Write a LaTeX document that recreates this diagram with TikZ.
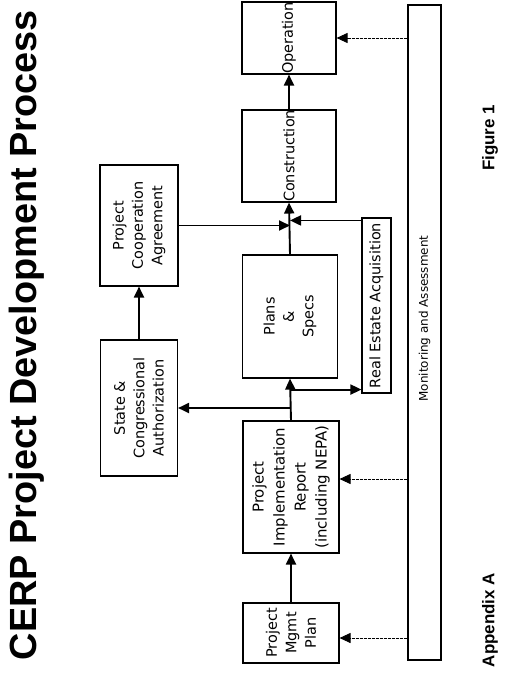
\documentclass[tikz,border=0pt]{standalone}
\usepackage{fontspec}
\usetikzlibrary{arrows.meta,positioning}
\newfontfamily\boxfont{DejaVu Sans}
\newfontfamily\headfont{Liberation Sans}

\begin{document}
\begin{tikzpicture}[
    x=1bp,y=-1bp,
    >={Triangle[length=11bp,width=10bp]},
    boxsize/.style 2 args={minimum width=#1bp,minimum height=#2bp},
    stage/.style={rectangle,draw,line width=1.1bp,rotate=90,inner sep=0pt,
      align=center,font=\boxfont\fontsize{14.5}{19.5}\selectfont},
    flow/.style={->,line width=1.9bp},
    feed/.style={->,line width=0.9bp,dash pattern=on 3bp off 1bp},
    heading/.style={rotate=90,inner sep=0pt,font=\headfont\bfseries\fontsize{38}{40}\selectfont},
    tag/.style={rotate=90,inner sep=0pt,font=\headfont\bfseries\fontsize{17}{19}\selectfont}]
  \useasboundingbox (0,0) rectangle (512,675);
  % ---- titles ----
  \node[heading] (title) at (27,335) {CERP Project Development Process};
  \node[tag] (appendix) at (490,620) {Appendix A};
  \node[tag] (figure) at (490,138) {Figure 1};
  % ---- process stages ----
  \node[stage,boxsize={60}{96}] (mgmt) at (291,633) {Project\\Mgmt\\Plan};
  \node[stage,boxsize={132}{96},font=\boxfont\fontsize{15}{21}\selectfont] (pir) at (291,487)
    {Project\\Implementation\\Report\\(including NEPA)};
  \node[stage,boxsize={123}{95}] (plans) at (290,316.5) {Plans\\\&\\Specs};
  \node[stage,boxsize={88}{94}] (constr) at (289,156) {Construction};
  \node[stage,boxsize={72}{94}] (oper) at (289,38) {Operation};
  \node[stage,boxsize={136}{77}] (state) at (139,408) {State \&\\Congressional\\Authorization};
  \node[stage,boxsize={121}{78}] (pca) at (139,225.5) {Project\\Cooperation\\Agreement};
  \node[stage,boxsize={175}{29}] (estate) at (376.5,305.5) {Real Estate Acquisition};
  \node[stage,boxsize={655}{33},font=\boxfont\fontsize{12}{14}\selectfont] (monitor) at (424.5,332.5)
    {\hspace*{28bp}Monitoring and Assessment};
  % ---- connectors ----
  \coordinate (estatein) at ([yshift=4bp]estate.north west);
  \coordinate (estateout) at ([yshift=-3bp]estate.north east);
  \coordinate (pirfeed) at ([yshift=8bp]pir.south);
  \coordinate (mgmtfeed) at ([yshift=-5bp]mgmt.south);
  \draw[flow] (mgmt.east) -- (pir.west);
  \draw[flow] (pir.east) -- (plans.west);
  \draw[flow] (pir.east |- state.south) -- (state.south);
  \draw[flow] (pir.east |- estatein) -- (estatein);
  \draw[flow] (state.east) -- (pca.west);
  \draw[flow] (plans.east) -- (constr.west);
  \draw[flow] (pca.south) -- (pca.south -| plans.east);
  \draw[flow] (estateout) -- (estateout -| plans.east);
  \draw[flow] (constr.east) -- (oper.west);
  \draw[feed] (monitor.north |- oper) -- (oper.south);
  \draw[feed] (monitor.north |- pirfeed) -- (pirfeed);
  \draw[feed] (monitor.north |- mgmtfeed) -- (mgmtfeed);
\end{tikzpicture}
\end{document}
